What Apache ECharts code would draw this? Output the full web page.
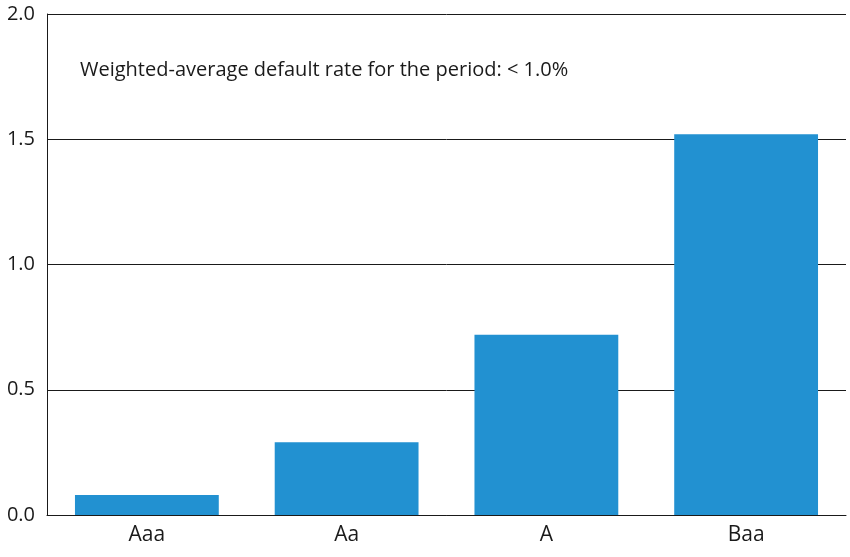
<!DOCTYPE html>
<html><head><meta charset="utf-8">
<script src="https://cdn.jsdelivr.net/npm/echarts@6/dist/echarts.min.js"></script>
<style>html,body{margin:0;padding:0;background:#fff}#c{width:850px;height:557px}</style>
</head><body><div id="c"></div>
<script>
const categories = ["Aaa", "Aa", "A", "Baa"];
const values = [0.08, 0.29, 0.72, 1.52];
const yTicks = [0, 0.5, 1, 1.5, 2];
const note = "Weighted-average default rate for the period: < 1.0%";
const chart = echarts.init(document.getElementById('c'));
chart.setOption({
  animation: false,
  textStyle: { fontFamily: "Open Sans" },
  grid: { left: 47, right: 4, top: 14, bottom: 42 },
  graphic: [{ type: 'text', left: 80, top: 60, style: { text: note, fontSize: 20, fill: '#1a1a1a', fontFamily: 'Open Sans' } }],
  xAxis: {
    type: 'category', data: categories,
    axisLine: { lineStyle: { color: '#1a1a1a', width: 1 } },
    axisTick: { show: false },
    axisLabel: { fontSize: 21, color: '#1a1a1a', margin: 10 }
  },
  yAxis: {
    type: 'value', min: 0, max: 2, interval: 0.5,
    axisLine: { show: true, lineStyle: { color: '#1a1a1a' } },
    axisTick: { show: false },
    splitLine: { lineStyle: { color: '#1a1a1a', width: 1 } },
    axisLabel: { fontSize: 20, color: '#1a1a1a', margin: 12, formatter: v => yTicks.includes(v) ? v.toFixed(1) : '' }
  },
  series: [{ type: 'bar', data: values, barWidth: '72%', itemStyle: { color: '#2291d1' } }]
});
</script></body></html>
